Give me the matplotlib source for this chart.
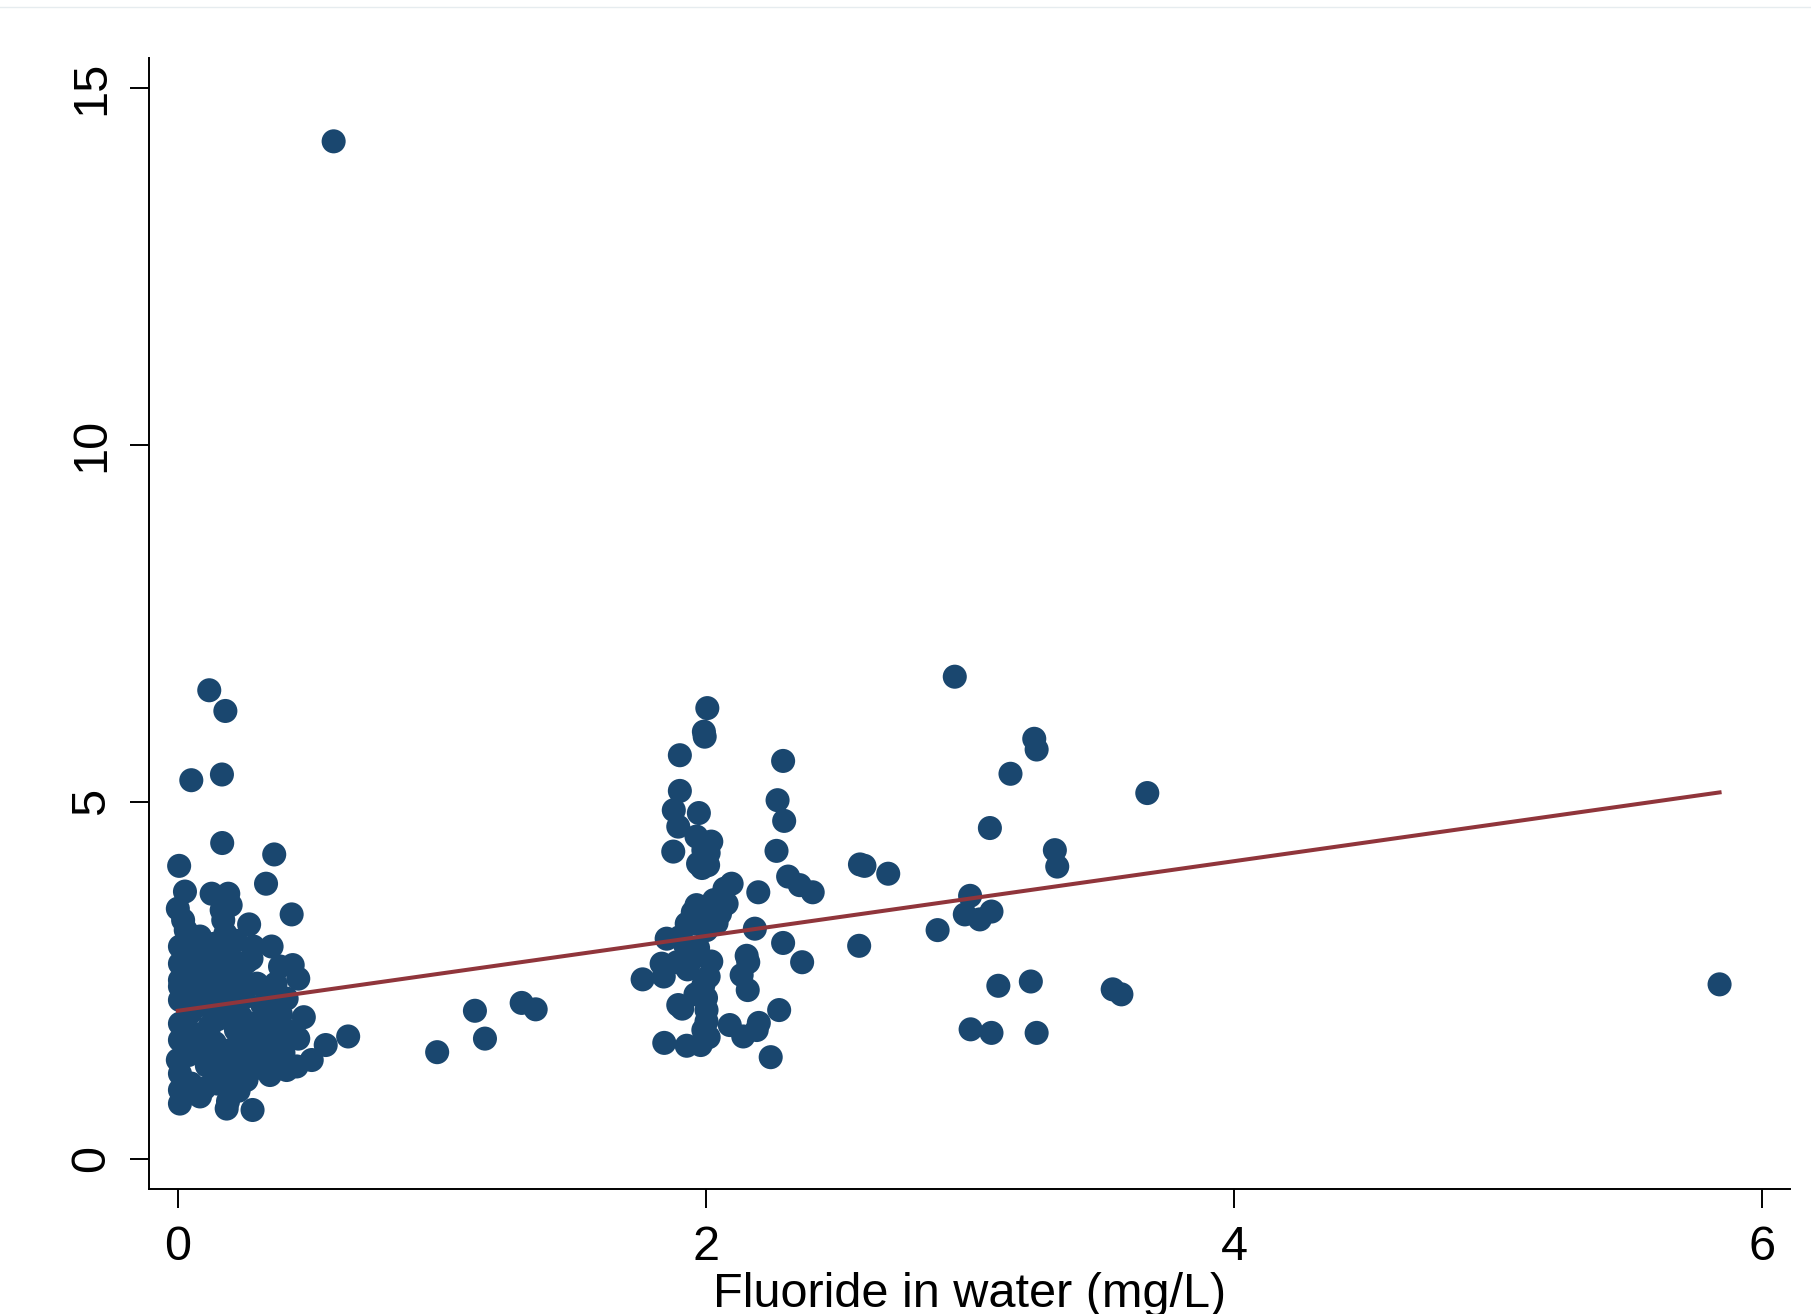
import numpy as np
import matplotlib.pyplot as plt
from matplotlib.lines import Line2D

plt.rcParams['font.family'] = ['Liberation Sans', 'DejaVu Sans']
plt.rcParams['font.size'] = 35

# fluoride (mg/L) and outcome, grouped by cluster
low_x = [0.119, 0.180, 0.051, 0.167, 0.168, 0.005, 0.365, 0.334, 0.431, 0.027,
         0.128, 0.191, 0.000, 0.020, 0.166, 0.172, 0.270, 0.084, 0.008, 0.140,
         0.286, 0.355, 0.197, 0.279, 0.008, 0.387, 0.435, 0.456, 0.096, 0.008,
         0.134, 0.248, 0.368, 0.412, 0.477, 0.560, 0.645, 0.507, 0.450, 0.412,
         0.349, 0.273, 0.185, 0.008, 0.008, 0.084, 0.185, 0.283, 0.197, 0.000,
         0.008, 0.008, 0.008, 0.008, 0.008, 0.456,
         0.05, 0.04, 0.06, 0.05, 0.04, 0.06, 0.05, 0.03,
         0.10, 0.11, 0.09, 0.12, 0.10, 0.11, 0.09,
         0.15, 0.16, 0.14, 0.15, 0.16, 0.17, 0.15, 0.18, 0.20,
         0.21, 0.20, 0.22, 0.21, 0.20, 0.23, 0.22,
         0.25, 0.26, 0.24, 0.25, 0.26,
         0.30, 0.31, 0.30, 0.32, 0.30,
         0.35, 0.36, 0.34, 0.37,
         0.40, 0.41, 0.39, 0.23, 0.19, 0.26, 0.33]
low_y = [6.56, 6.27, 5.30, 5.38, 4.42, 4.10, 4.26, 3.85, 3.42, 3.74,
         3.71, 3.71, 3.50, 3.34, 3.48, 3.34, 3.28, 3.11, 2.97, 3.01,
         2.97, 2.97, 2.83, 2.80, 2.73, 2.69, 2.71, 2.52, 2.69, 2.50,
         2.50, 2.50, 2.27, 2.24, 1.98, 1.59, 1.71, 1.38, 1.29, 1.24,
         1.17, 1.22, 1.10, 0.96, 0.77, 0.87, 0.70, 0.68, 0.91, 1.38,
         1.19, 1.89, 2.22, 2.41, 1.66, 1.68,
         1.05, 1.45, 1.75, 2.05, 2.35, 2.60, 2.88, 3.20,
         0.98, 1.30, 1.55, 1.85, 2.15, 2.40, 2.92,
         1.05, 1.35, 1.62, 1.95, 2.25, 2.62, 2.78, 3.15, 3.55,
         1.25, 1.52, 1.80, 2.08, 2.38, 2.62, 3.05,
         1.40, 1.70, 1.98, 2.25, 2.75,
         1.35, 1.62, 1.90, 2.15, 2.45,
         1.42, 1.70, 1.95, 2.45,
         1.48, 1.80, 2.02, 0.95, 0.80, 1.10, 1.30]

mid_x = [2.005, 1.992, 1.995, 1.901, 2.292, 1.901, 1.878, 1.973, 2.271, 2.296,
         1.895, 1.964, 2.020, 1.876, 1.990, 2.010, 1.970, 2.008, 1.985, 2.267,
         2.311, 2.355, 2.404, 2.583, 2.600, 2.097, 2.070, 2.198, 2.078, 2.053,
         1.964, 2.010, 1.927, 1.960, 1.851, 1.900, 2.002, 2.185, 2.292, 2.364,
         2.580, 1.832, 1.890, 1.940, 2.020, 1.760, 1.840, 1.930, 1.990, 2.154,
         2.160, 2.135, 2.158, 1.895, 1.910, 2.002, 2.002, 1.990, 2.090, 2.141,
         2.192, 2.277, 1.842, 1.927, 1.980, 2.245, 2.200,
         2.030, 1.950, 1.920, 1.970, 2.040, 2.010, 1.960, 2.000, 2.010]
mid_y = [6.31, 5.98, 5.91, 5.65, 5.57, 5.15, 4.88, 4.84, 5.02, 4.73,
         4.65, 4.51, 4.44, 4.30, 4.32, 4.28, 4.13, 4.11, 4.07, 4.31,
         3.95, 3.83, 3.73, 4.12, 4.10, 3.85, 3.78, 3.73, 3.57, 3.43,
         3.55, 3.40, 3.29, 3.29, 3.08, 3.10, 3.20, 3.22, 3.02, 2.75,
         2.98, 2.73, 2.75, 2.76, 2.76, 2.51, 2.55, 2.65, 2.43, 2.84,
         2.75, 2.57, 2.36, 2.15, 2.10, 2.08, 1.92, 1.80, 1.87, 1.71,
         1.80, 2.08, 1.62, 1.58, 1.59, 1.42, 1.90,
         3.62, 3.45, 3.00, 2.95, 3.30, 2.55, 2.30, 2.25, 1.70]

high_x = [2.942, 3.243, 3.252, 3.153, 3.671, 3.075, 3.321, 3.330, 2.690, 3.000,
          2.980, 3.037, 3.081, 2.877, 3.107, 3.230, 3.540, 3.573, 3.002, 3.081,
          3.252]
high_y = [6.75, 5.88, 5.73, 5.39, 5.12, 4.63, 4.32, 4.09, 3.99, 3.68,
          3.42, 3.35, 3.46, 3.20, 2.42, 2.48, 2.37, 2.30, 1.81, 1.76,
          1.76]

other_x = [1.125, 1.163, 0.982, 1.302, 1.355, 0.590, 5.838]
other_y = [2.07, 1.68, 1.49, 2.18, 2.09, 14.25, 2.44]

# linear fit shown in the picture
fit_intercept = 2.07
fit_slope = 0.524

x = np.array(low_x + mid_x + high_x + other_x)
y = np.array(low_y + mid_y + high_y + other_y)

fig = plt.figure(figsize=(18.11, 13.14), dpi=100)
ax = fig.add_axes([0.0823, 0.0955, 0.906, 0.8605])

ax.scatter(x, y, s=300, color='#1a476f', edgecolors='none', zorder=2)
xf = np.array([x.min(), x.max()])
ax.plot(xf, fit_intercept + fit_slope * xf, color='#90353b', lw=2.9, zorder=3)

ax.set_xlim(-0.109, 6.104)
ax.set_ylim(-0.42, 15.42)
ax.set_xticks([0, 2, 4, 6])
ax.set_yticks([0, 5, 10, 15])
ax.spines['top'].set_visible(False)
ax.spines['right'].set_visible(False)
for s in ('left', 'bottom'):
    ax.spines[s].set_linewidth(1.4)
ax.tick_params(direction='out', length=14, width=1.4)
ax.tick_params(axis='x', pad=12)
ax.tick_params(axis='y', pad=11)
plt.setp(ax.get_yticklabels(), rotation=90, va='center')
ax.set_xlabel('Fluoride in water (mg/L)', labelpad=1.5)

fig.add_artist(Line2D([0, 1], [0.9947, 0.9947], color='#e6ecef', lw=1))

fig.savefig('out.png', dpi=100)
